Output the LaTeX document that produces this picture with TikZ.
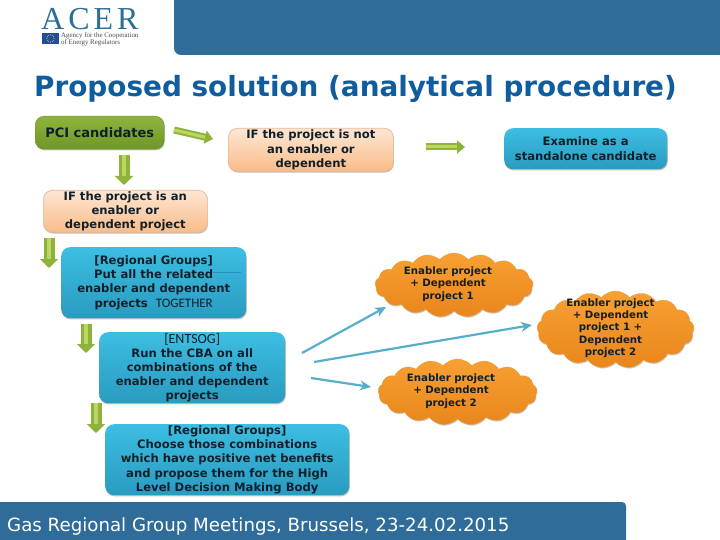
\documentclass[tikz,border=0pt]{standalone}
\usepackage{fontspec}
\setmainfont{DejaVu Sans}
\newfontfamily\logofont{Liberation Serif}
\newfontfamily\togfont{Carlito}
\usetikzlibrary{shapes.symbols,shadows,arrows.meta}
\definecolor{barblue}{HTML}{2F6C99}
\definecolor{titleblue}{HTML}{0F5C9E}
\definecolor{txt}{HTML}{10202A}
\definecolor{peachline}{HTML}{E8B890}\definecolor{peachtop}{HTML}{FDE6D4}\definecolor{peachbot}{HTML}{F9BC88}
\definecolor{tealtop}{HTML}{3CBEE2}\definecolor{tealbot}{HTML}{2A9BC0}
\definecolor{orangetop}{HTML}{F9A033}\definecolor{orangebot}{HTML}{E8861C}\definecolor{orangeline}{HTML}{F0932A}
\definecolor{grdark}{HTML}{8DB33A}\definecolor{grlight}{HTML}{BBD662}\definecolor{arblue}{HTML}{55AFCB}
\definecolor{greentop}{HTML}{8DB53C}\definecolor{greenbot}{HTML}{6F9628}
\definecolor{flagblue}{HTML}{1F4E9C}\definecolor{hairline}{HTML}{2A8FC0}
\definecolor{logoblue}{HTML}{2B6E96}
\tikzset{x=1pt,y=-1pt,
  bx/.style={rounded corners=9pt,inner sep=0pt,align=center,anchor=north west,font=\fontsize{11.6}{14.2}\selectfont\bfseries,text=txt,
    drop shadow={shadow xshift=0.6pt,shadow yshift=-1.2pt,opacity=.35,fill=black!70}},
  greenbox/.style={bx,top color=greentop,bottom color=greenbot,draw=greenbot,line width=.4pt},
  peach/.style={bx,draw=peachline,line width=.7pt,top color=peachtop,bottom color=peachbot},
  teal/.style={bx,draw=none,top color=tealtop,bottom color=tealbot},
  puff/.style={cloud,cloud puffs=17,cloud puff arc=100,inner sep=0pt,
    top color=orangetop,bottom color=orangebot,draw=orangeline,line width=.3pt,
    drop shadow={shadow xshift=0.6pt,shadow yshift=-1.2pt,opacity=.3,fill=black!70}},
  pufftext/.style={inner sep=0pt,align=center,font=\fontsize{10.2}{12.3}\selectfont\bfseries,text=txt},
  garrowbase/.style={draw=grdark,double=grlight},
  garrow/.style={garrowbase,line width=2pt,double distance=3pt,-{Triangle[length=8pt,width=13pt,fill=grdark]}},
  garrowbig/.style={garrowbase,line width=3.5pt,double distance=4pt,-{Triangle[length=9pt,width=18pt,fill=grdark]}},
  barrow/.style={draw=arblue,line width=2.2pt,-{Stealth[length=11pt,width=10pt,fill=arblue]}},
  bar/.style={fill=barblue,draw=none}
}
\begin{document}
\begin{tikzpicture}
\useasboundingbox (0,0) rectangle (720,540);
\fill[white] (0,0) rectangle (720,540);
% header and footer bars
\path[bar,rounded corners=7pt] (174,-10) -- (174,55) -- (730,55) -- (730,-10) -- cycle;
\path[bar,rounded corners=4pt] (-10,502) -- (626,502) -- (626,550) -- (-10,550) -- cycle;
\node[anchor=west,inner sep=0pt,text=white,font=\fontsize{18.2}{20}\selectfont] (foot) at (7,526) {Gas Regional Group Meetings, Brussels, 23-24.02.2015};
% logo
\node[anchor=base west,inner sep=0pt,text=logoblue,font=\logofont\fontsize{32}{32}\selectfont] (acer) at (41,30) {A\hspace{4pt}C\hspace{4pt}E\hspace{4pt}R};
\fill[flagblue] (42,33) rectangle (59,44);
\foreach \a in {0,30,...,330}
  \fill[yellow!85!orange] (50.5,38.5) ++(\a:3.6) circle (.45);
\node[anchor=north west,inner sep=0pt,align=left,text=black!70,font=\logofont\fontsize{6.9}{7.2}\selectfont] (agency) at (61,32.5) {Agency for the Cooperation\\of Energy Regulators};
% title
\node[anchor=west,inner sep=0pt,text=titleblue,font=\fontsize{27.85}{30}\selectfont\bfseries] (title) at (34,88.5) {Proposed solution (analytical procedure)};
% boxes
\node[greenbox,minimum width=129pt,minimum height=33pt,font=\fontsize{13}{14}\selectfont\bfseries] (pci) at (35,116) {PCI candidates};
\node[peach,minimum width=165pt,minimum height=43pt] (notif) at (228,128) {IF the project is not\\an enabler or\\dependent};
\node[teal,minimum width=163pt,minimum height=41pt] (exam) at (504,128) {Examine as a\\standalone candidate};
\node[peach,minimum width=164pt,minimum height=42pt] (isif) at (43,190) {IF the project is an\\enabler or\\dependent project};
\node[teal,minimum width=185pt,minimum height=71pt] (rg1) at (61,247) {[Regional Groups]\\Put all the related\\enabler and dependent\\projects\ \ {\togfont\mdseries\fontsize{13}{14.2}\selectfont TOGETHER}};
\node[teal,minimum width=186pt,minimum height=71pt] (ent) at (99,332) {{\togfont\mdseries\fontsize{14}{14.2}\selectfont [ENTSOG]}\\Run the CBA on all\\combinations of the\\enabler and dependent\\projects};
\node[teal,minimum width=244pt,minimum height=71pt] (rg2) at (105,424) {[Regional Groups]\\Choose those combinations\\which have positive net benefits\\and propose them for the High\\Level Decision Making Body};
% hairline inside the first Regional Groups box
\coordinate (hl1) at (213,272); \coordinate (hl2) at (241,272);
\draw[hairline,line width=.6pt] (hl1) -- (hl2);
% clouds
\node[puff,aspect=2.47,minimum width=158pt,minimum height=64pt] (c1) at (454,285) {};
\node[puff,aspect=2.04,minimum width=157pt,minimum height=77pt] (c2) at (615.5,329.5) {};
\node[puff,aspect=2.41,minimum width=159pt,minimum height=66pt] (c3) at (457.5,392) {};
\node[pufftext] (t1) at (448,284) {Enabler project\\+ Dependent\\project 1};
\node[pufftext] (t2) at (610.5,328) {Enabler project\\+ Dependent\\project 1 +\\Dependent\\project 2};
\node[pufftext] (t3) at (451,391) {Enabler project\\+ Dependent\\project 2};
% connector ends
\coordinate (a1s) at (174,130); \coordinate (a1e) at (213,139);
\coordinate (a2s) at (426,147); \coordinate (a2e) at (465,147);
\coordinate (a3s) at (124,155); \coordinate (a3e) at (124,185);
\coordinate (a4s) at (49,238);  \coordinate (a4e) at (49,268);
\coordinate (a5s) at (86,324);  \coordinate (a5e) at (86,353);
\coordinate (a6s) at (96,403);  \coordinate (a6e) at (96,433);
\coordinate (b1s) at (302,353); \coordinate (b1e) at (386,307);
\coordinate (b2s) at (314,362); \coordinate (b2e) at (532,325);
\coordinate (b3s) at (311,378); \coordinate (b3e) at (371,387);
\foreach \s/\e in {a1s/a1e,a2s/a2e}
  \draw[garrow] (\s) -- (\e);
\foreach \s/\e in {a3s/a3e,a4s/a4e,a5s/a5e,a6s/a6e}
  \draw[garrowbig] (\s) -- (\e);
\foreach \s/\e in {b1s/b1e,b2s/b2e,b3s/b3e}
  \draw[barrow] (\s) -- (\e);
\end{tikzpicture}
\end{document}
